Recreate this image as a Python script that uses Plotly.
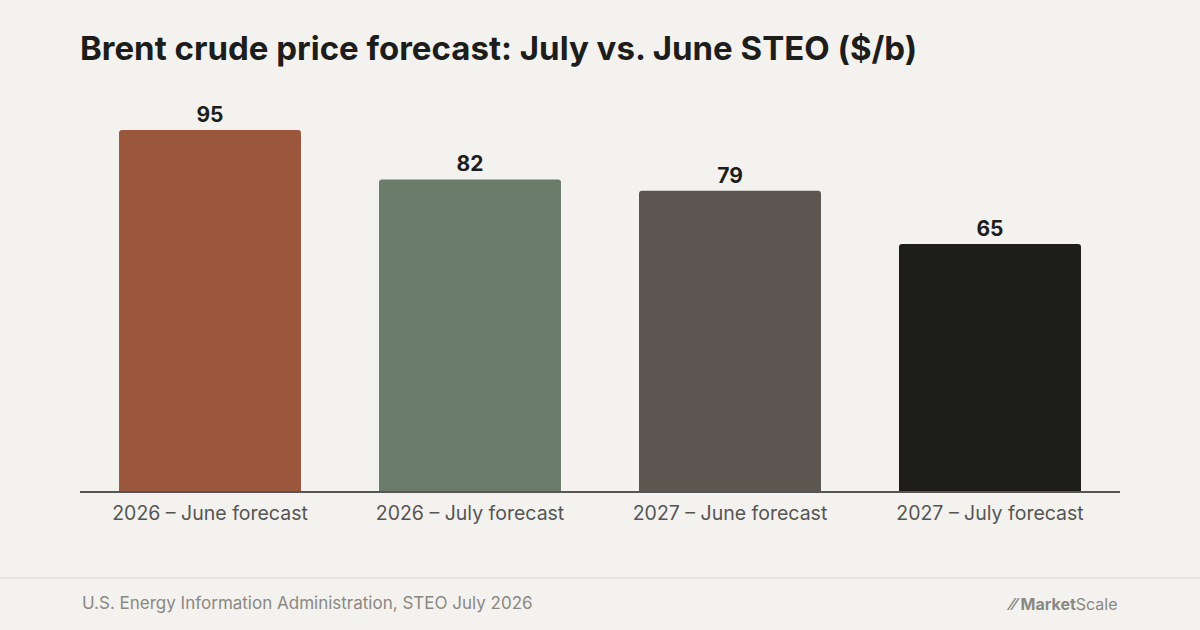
import plotly.graph_objects as go

categories = ["2026 – June forecast", "2026 – July forecast", "2027 – June forecast", "2027 – July forecast"]
values = [95, 82, 79, 65]
colors = ["#9a573b", "#6b7c6b", "#5b5650", "#1d1d1b"]

fig = go.Figure(go.Bar(
    x=categories, y=values, marker=dict(color=colors, cornerradius=3, line_width=0),
    text=[str(v) for v in values], textposition="outside",
    textfont=dict(family="Inter", size=21, color="#1d1d1b", weight=700),
    cliponaxis=False, width=0.7, hoverinfo="skip",
))
bg = "#f4f2ee"
fig.update_layout(
    width=1200, height=630, paper_bgcolor=bg, plot_bgcolor=bg,
    margin=dict(l=80, r=80, t=100, b=139), showlegend=False,
    xaxis=dict(showgrid=False, showline=True, linecolor="#555", linewidth=1.5,
               ticks="outside", ticklen=4, tickcolor="rgba(0,0,0,0)",
               tickfont=dict(family="Inter", size=19.5, color="#555")),
    yaxis=dict(range=[0, 102.9], visible=False),
    title=dict(text="<b>Brent crude price forecast: July vs. June STEO ($/b)</b>",
               x=80/1200, xanchor="left", y=1-48/630, yanchor="middle",
               font=dict(family="Inter", size=33, color="#1d1d1b")),
)
fig.add_shape(type="line", xref="paper", yref="paper", x0=-80/1040, x1=1+80/1040,
              y0=-(578-491)/391, y1=-(578-491)/391, line=dict(color="#e2e0dc", width=1.5))
fig.add_annotation(text="U.S. Energy Information Administration, STEO July 2026",
                   xref="paper", yref="paper", x=0, y=-(603-491)/391, xanchor="left", yanchor="middle",
                   showarrow=False, font=dict(family="Inter", size=17, color="#8a8883"))
fig.add_annotation(text="<b>⁄⁄ Market</b>Scale", xref="paper", yref="paper", x=1, y=-(604-491)/391,
                   xanchor="right", yanchor="middle", showarrow=False,
                   font=dict(family="Inter", size=16, color="#8a8883"))
fig.write_html("out.html", config={"displayModeBar": False},
               post_script="document.body.style.margin='0';")
